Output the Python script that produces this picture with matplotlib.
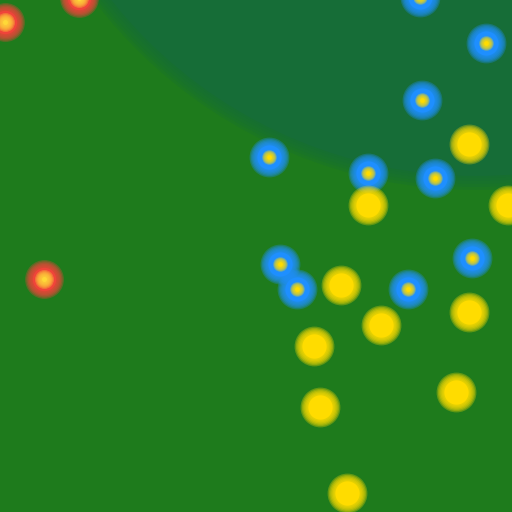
import matplotlib
matplotlib.use("Agg")
import matplotlib.pyplot as plt
from matplotlib.patches import Circle
import numpy as np

# data (pixel-space positions, y downward)
blue_x = [420, 486, 422, 269, 368, 435, 280, 297, 408, 472]
blue_y = [-3, 43, 100, 157, 173, 178, 264, 289, 289, 258]
yellow_x = [469, 368, 508, 341, 381, 469, 314, 456, 320, 347]
yellow_y = [144, 205, 205, 285, 325, 312, 346, 392, 407, 493]
red_x = [5, 79, 44]
red_y = [22, -2, 279]

BG = "#1e7b1c"
ZONE = "#166d37"
BLUE = "#1e8fff"
YELLOW = "#ffdc00"
RED = "#f0443a"
ORANGE = "#ffd838"

DPI = 100
fig = plt.figure(figsize=(5.12, 5.12), dpi=DPI)
ax = fig.add_axes([0, 0, 1, 1])
ax.set_xlim(0, 512)
ax.set_ylim(512, 0)
ax.set_facecolor(BG)
ax.axis("off")
fig.patch.set_facecolor(BG)

# darker zone (soft edge)
for i in range(5):
    ax.add_patch(Circle((476, -290), 480 - 3 * i, color=ZONE, alpha=0.25, lw=0, zorder=1))
ax.add_patch(Circle((476, -290), 466, color=ZONE, lw=0, zorder=1))


def soft(xs, ys, color, diam, blur, z):
    px2pt = 72.0 / DPI
    n = 7
    for k in range(n):
        d = diam + blur * (1 - k / (n - 1)) * 1.4 - blur * 0.6
        s = (d * px2pt) ** 2
        ax.scatter(xs, ys, s=s, c=color, alpha=0.3 if k < n - 1 else 1.0,
                   linewidths=0, zorder=z)


soft(red_x, red_y, RED, 30, 11, 3)
soft(red_x, red_y, ORANGE, 11, 10, 4)
soft(blue_x, blue_y, BLUE, 31, 11, 3)
soft(blue_x, blue_y, YELLOW, 9, 7, 4)
soft(yellow_x, yellow_y, YELLOW, 31, 11, 3)

fig.savefig("out.png", dpi=DPI, facecolor=BG)
